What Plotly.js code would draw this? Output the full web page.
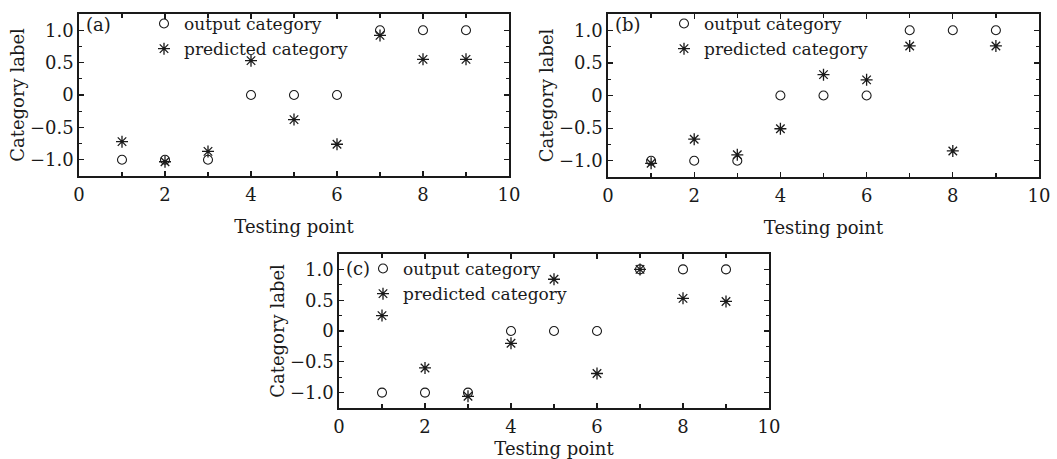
<!DOCTYPE html>
<html>
<head>
<meta charset="utf-8">
<script src="https://cdn.plot.ly/plotly-3.0.1.min.js"></script>
<style>html,body{margin:0;padding:0;background:#fff;}#chart{width:1057px;height:459px;}</style>
</head>
<body>
<div id="chart"></div>
<script>
// Data
const testingPoints = [1, 2, 3, 4, 5, 6, 7, 8, 9];
const outputCategory = [-1, -1, -1, 0, 0, 0, 1, 1, 1];
const predictedA = [-0.72, -1.03, -0.87, 0.53, -0.38, -0.76, 0.92, 0.55, 0.55];
const predictedB = [-1.04, -0.67, -0.91, -0.51, 0.32, 0.24, 0.76, -0.85, 0.76];
const predictedC = [0.25, -0.60, -1.06, -0.20, 0.84, -0.69, 1.0, 0.53, 0.48];
const panelLabels = ['(a)', '(b)', '(c)'];
const yTickVals = [-1, -0.5, 0, 0.5, 1];
const yTickText = ['\u22121.0', '\u22120.5', '0', '0.5', '1.0'];
const xTickVals = [0, 2, 4, 6, 8, 10];
const seriesNames = ['output category', 'predicted category'];
const xTitle = 'Testing point';
const yTitle = 'Category label';

const FONT = 'DejaVu Serif, serif';
const INK = '#1a1a1a';
const W = 1057, H = 459;

// panel pixel boxes [left, right, top, bottom]
const boxes = [[79, 509, 14, 176], [608, 1039, 14, 177], [339, 769, 254, 408]];
const legendPos = [[144, 6], [664, 6], [363, 251]];
const labelPos = [[84, 24], [613, 24], [344, 268]];
const xStandoff = [16, 16, 10];

const predictedSets = [predictedA, predictedB, predictedC];
const traces = [];
const layout = {
  width: W, height: H,
  margin: {l: 0, r: 0, t: 0, b: 0},
  paper_bgcolor: '#fff', plot_bgcolor: '#fff',
  font: {family: FONT, size: 18, color: INK},
  showlegend: true,
  annotations: []
};

for (let i = 0; i < 3; i++) {
  const sfx = i === 0 ? '' : String(i + 1);
  const lg = 'legend' + sfx;
  traces.push({
    x: testingPoints, y: outputCategory, type: 'scatter', mode: 'markers',
    name: seriesNames[0], xaxis: 'x' + sfx, yaxis: 'y' + sfx, legend: lg,
    marker: {symbol: 'circle-open', size: 9, color: INK, line: {width: 1.1, color: INK}}
  });
  traces.push({
    x: testingPoints, y: predictedSets[i], type: 'scatter', mode: 'markers',
    name: seriesNames[1], xaxis: 'x' + sfx, yaxis: 'y' + sfx, legend: lg,
    marker: {symbol: 'asterisk-open', size: 10, color: INK, line: {width: 1.3, color: INK}}
  });
  const b = boxes[i];
  layout['xaxis' + sfx] = {
    domain: [b[0] / W, b[1] / W], anchor: 'y' + sfx,
    range: [0, 10], tickmode: 'array', tickvals: xTickVals,
    ticks: 'inside', ticklen: 5, tickwidth: 1.2, tickcolor: INK, ticklabelstandoff: 2,
    minor: {tickmode: 'linear', tick0: 1, dtick: 1, ticks: 'inside', ticklen: 4, tickwidth: 1.2, tickcolor: INK},
    showline: true, linewidth: 1.8, linecolor: INK, mirror: 'ticks',
    showgrid: false, zeroline: false, fixedrange: true,
    tickfont: {family: FONT, size: 18, color: INK},
    title: {text: xTitle, font: {family: FONT, size: 18, color: INK}, standoff: xStandoff[i]},
    automargin: false
  };
  layout['yaxis' + sfx] = {
    domain: [(H - b[3]) / H, (H - b[2]) / H], anchor: 'x' + sfx,
    range: [-1.25, 1.25], tickmode: 'array', tickvals: yTickVals, ticktext: yTickText,
    ticks: 'inside', ticklen: 5, tickwidth: 1.2, tickcolor: INK,
    minor: {tickmode: 'linear', tick0: 0, dtick: 0.25, ticks: 'inside', ticklen: 3, tickwidth: 1.2, tickcolor: INK},
    showline: true, linewidth: 1.8, linecolor: INK, mirror: 'ticks',
    showgrid: false, zeroline: false, fixedrange: true,
    tickfont: {family: FONT, size: 18, color: INK},
    title: {text: yTitle, font: {family: FONT, size: 18, color: INK}, standoff: 0},
    automargin: false
  };
  layout[lg] = {
    x: legendPos[i][0] / W, y: (H - legendPos[i][1]) / H,
    xanchor: 'left', yanchor: 'top', xref: 'paper', yref: 'paper',
    bgcolor: 'rgba(0,0,0,0)', borderwidth: 0,
    font: {family: FONT, size: 17, color: INK},
    itemwidth: 30, tracegroupgap: 0
  };
  layout.annotations.push({
    text: panelLabels[i], xref: 'paper', yref: 'paper',
    x: labelPos[i][0] / W, y: (H - labelPos[i][1]) / H,
    xanchor: 'left', yanchor: 'middle', showarrow: false,
    font: {family: FONT, size: 18, color: INK}
  });
}

Plotly.newPlot('chart', traces, layout, {staticPlot: true, displayModeBar: false});
</script>
</body>
</html>
